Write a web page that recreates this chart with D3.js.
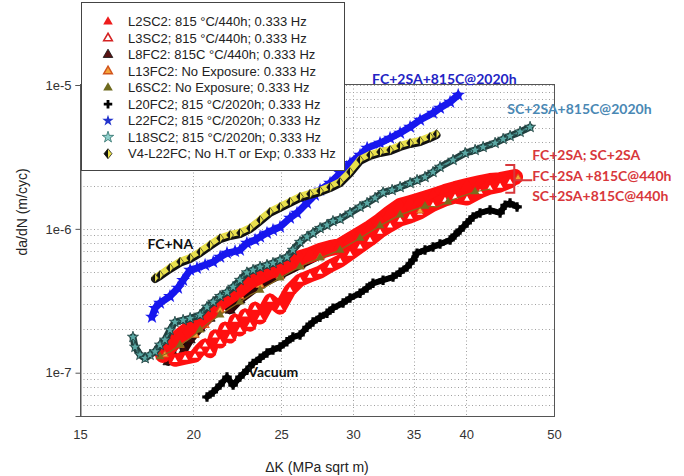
<!DOCTYPE html>
<html><head><meta charset="utf-8">
<script src="https://cdn.jsdelivr.net/npm/d3@7"></script>
<style>
html,body{margin:0;padding:0;background:#fff;}
svg{display:block;}
</style></head>
<body>
<svg id="c" width="684" height="476"></svg>
<script>
// ---------------- DATA (ΔK in MPa·sqrt(m), da/dN in m/cycle) ----------------
const xTickValues = [15, 20, 25, 30, 35, 40, 50];
const yTickValues = [1e-5, 1e-6, 1e-7];
const yTickLabels = ["1e-5", "1e-6", "1e-7"];

const seriesNames = [
  "L2SC2: 815 °C/440h; 0.333 Hz",
  "L3SC2; 815 °C/440h; 0.333 Hz",
  "L8FC2: 815C °C/440h; 0.333 Hz",
  "L13FC2: No Exposure: 0.333 Hz",
  "L6SC2: No Exposure; 0.333 Hz",
  "L20FC2; 815 °C/2020h; 0.333 Hz",
  "L22FC2; 815 °C/2020h; 0.333 Hz",
  "L18SC2; 815 °C/2020h; 0.333 Hz",
  "V4-L22FC; No H.T or Exp; 0.333 Hz"
];

const L2SC2_dK   = [18.52,18.85,19.34,19.84,20.35,20.87,21.41,21.96,22.52,23.10,23.70,24.30,24.93,25.57,26.23,26.90,27.60,28.31,29.04,29.78,30.55,31.33,32.14,32.97,33.82,34.69,35.58,36.77,37.91,38.89,40.09,41.44,42.50,43.60,44.72,45.29];
const L2SC2_dadN = [1.33e-7,1.53e-7,1.80e-7,2.04e-7,2.25e-7,2.64e-7,3.05e-7,3.41e-7,3.81e-7,4.34e-7,4.70e-7,5.09e-7,5.34e-7,5.78e-7,6.26e-7,6.57e-7,7.01e-7,7.35e-7,7.59e-7,8.36e-7,9.20e-7,1.013e-6,1.133e-6,1.288e-6,1.441e-6,1.511e-6,1.586e-6,1.691e-6,1.803e-6,1.891e-6,1.984e-6,2.083e-6,2.150e-6,2.18e-6,2.256e-6,2.29e-6];

const L3SC2_dK   = [19.09,19.59,20.09,20.35,20.61,20.87,21.14,21.41,21.68,21.96,22.24,22.52,22.81,23.10,23.40,23.70,24.30,24.93,25.57,26.23,26.90,27.60,28.31,29.04,29.78,30.55,31.33,32.14,32.97,33.82,34.69,35.58,36.77,37.91,38.89,40.09,41.44,42.50,43.60,44.72];
const L3SC2_dadN = [1.22e-7,1.264e-7,1.305e-7,1.44e-7,1.56e-7,1.40e-7,1.80e-7,1.632e-7,2.04e-7,1.77e-7,2.32e-7,1.98e-7,2.52e-7,2.14e-7,2.81e-7,2.40e-7,3.20e-7,2.81e-7,3.75e-7,4.40e-7,4.70e-7,5.0e-7,5.51e-7,5.97e-7,6.67e-7,7.48e-7,8.36e-7,9.5e-7,1.05e-6,1.15e-6,1.208e-6,1.288e-6,1.46e-6,1.586e-6,1.664e-6,1.611e-6,1.803e-6,1.922e-6,1.984e-6,2.116e-6];

const L8FC2_dK   = [18.76,18.95,19.14,19.34,19.54,19.84,20.35,20.87,21.30,21.68,21.96,22.52,23.70,24.93,26.23,27.60,29.04,30.55,32.14,33.82,35.58,37.43,39.39,41.44,43.60];
const L8FC2_dadN = [1.19e-7,1.40e-7,1.64e-7,1.73e-7,1.44e-7,1.69e-7,2.04e-7,2.39e-7,2.95e-7,3.10e-7,2.72e-7,3.20e-7,4.07e-7,4.77e-7,5.60e-7,6.57e-7,7.72e-7,9.06e-7,1.063e-6,1.25e-6,1.46e-6,1.67e-6,1.86e-6,2.05e-6,2.18e-6];

const L13FC2_dK   = [18.61,19.34,20.09,20.61,20.87,21.41,22.52,23.70,24.93,26.23,27.60,29.04,30.55,32.14,33.82,35.58,37.43,39.39,41.44,43.60,45.64];
const L13FC2_dadN = [1.33e-7,1.56e-7,1.83e-7,2.14e-7,2.52e-7,2.72e-7,3.40e-7,4.07e-7,4.70e-7,5.51e-7,6.37e-7,7.36e-7,8.36e-7,9.81e-7,1.13e-6,1.33e-6,1.54e-6,1.72e-6,1.92e-6,2.05e-6,2.26e-6];

const L6SC2_dK   = [18.38,18.85,19.34,19.84,20.35,20.87,21.41,21.96,22.52,23.10,23.70,24.30,24.93,25.57,26.23,26.90,27.60,28.31,29.04,29.78,30.55,31.33,32.14,32.97,33.82,34.95,36.03,37.15,38.20,39.39,40.92,42.50];
const L6SC2_dadN = [1.29e-7,1.40e-7,1.56e-7,1.73e-7,1.98e-7,2.25e-7,2.52e-7,2.81e-7,3.10e-7,3.46e-7,3.75e-7,4.12e-7,4.55e-7,5.0e-7,5.43e-7,5.88e-7,6.27e-7,6.67e-7,7.12e-7,7.84e-7,8.6e-7,9.5e-7,1.05e-6,1.15e-6,1.25e-6,1.35e-6,1.44e-6,1.42e-6,1.54e-6,1.67e-6,1.81e-6,1.89e-6];

const L20FC2_dK   = [20.71,21.04,21.41,21.79,22.13,22.52,22.92,23.28,23.70,24.12,24.49,24.93,25.37,25.76,26.23,26.70,27.11,27.60,28.09,28.52,29.26,29.78,30.55,31.10,31.57,32.39,33.22,33.82,34.43,34.95,35.31,36.03,36.77,37.43,38.40,38.89,39.39,40.10,40.71,41.44,42.50,43.60,44.16,44.72,45.52];
const L20FC2_dadN = [6.78e-8,7.34e-8,8.20e-8,9.32e-8,8.20e-8,9.32e-8,1.04e-7,1.16e-7,1.26e-7,1.37e-7,1.44e-7,1.51e-7,1.64e-7,1.77e-7,1.83e-7,2.07e-7,2.25e-7,2.43e-7,2.59e-7,2.81e-7,3.05e-7,3.30e-7,3.57e-7,3.88e-7,4.18e-7,4.40e-7,4.62e-7,5.0e-7,5.43e-7,6.07e-7,6.78e-7,7.12e-7,7.48e-7,7.84e-7,8.36e-7,9.06e-7,9.81e-7,1.10e-6,1.21e-6,1.29e-6,1.35e-6,1.29e-6,1.46e-6,1.51e-6,1.42e-6];

const L22FC2_dK   = [18.01,18.15,18.38,18.85,19.24,19.49,19.84,20.19,20.61,21.04,21.41,21.79,22.24,22.52,22.92,23.40,23.70,24.12,24.49,24.93,25.57,26.03,26.70,27.24,27.60,28.31,29.04,29.78,30.55,31.10,32.14,32.97,33.82,34.69,35.58,36.77,37.43,38.40,39.20];
const L22FC2_dadN = [2.44e-7,2.81e-7,3.05e-7,3.40e-7,3.88e-7,4.40e-7,5.17e-7,5.34e-7,5.60e-7,5.88e-7,6.37e-7,6.78e-7,6.98e-7,7.12e-7,7.96e-7,8.36e-7,8.8e-7,9.35e-7,9.81e-7,1.03e-6,1.19e-6,1.29e-6,1.51e-6,1.72e-6,1.86e-6,2.08e-6,2.44e-6,2.86e-6,3.26e-6,3.65e-6,3.95e-6,4.28e-6,4.64e-6,5.10e-6,5.71e-6,6.38e-6,6.91e-6,7.62e-6,8.52e-6];

const L18SC2_dK   = [17.16,17.25,17.47,17.70,17.92,18.15,18.38,18.61,18.85,19.09,19.49,19.84,20.35,20.71,21.04,21.41,21.79,22.13,22.52,22.92,23.28,23.70,24.12,24.49,24.93,25.37,25.76,26.23,26.70,27.11,27.60,28.09,28.52,29.04,29.78,30.55,31.10,31.74,32.39,33.14,33.82,34.69,35.31,36.03,36.77,37.43,38.69,39.90,40.92,41.76,43.05,43.94,44.72,45.87,47.05];
const L18SC2_dadN = [1.77e-7,1.51e-7,1.33e-7,1.26e-7,1.33e-7,1.40e-7,1.56e-7,1.69e-7,1.98e-7,2.25e-7,2.32e-7,2.39e-7,2.52e-7,2.86e-7,3.10e-7,3.40e-7,3.63e-7,3.94e-7,4.40e-7,4.96e-7,5.17e-7,5.43e-7,5.60e-7,5.78e-7,6.07e-7,6.37e-7,7.12e-7,8.08e-7,8.8e-7,9.35e-7,1.01e-6,1.063e-6,1.13e-6,1.17e-6,1.29e-6,1.42e-6,1.51e-6,1.64e-6,1.79e-6,1.86e-6,1.95e-6,2.08e-6,2.18e-6,2.29e-6,2.48e-6,2.69e-6,3.01e-6,3.36e-6,3.53e-6,3.70e-6,3.95e-6,4.21e-6,4.42e-6,4.72e-6,5.10e-6];

const V4_dK   = [18.15,18.38,18.85,19.34,19.84,20.35,20.87,21.41,21.96,22.52,23.10,23.70,24.30,24.93,25.57,26.23,26.90,27.60,28.31,29.04,29.78,30.55,31.33,32.14,32.97,33.82,34.69,35.58,36.49,37.10];
const V4_dadN = [4.55e-7,4.77e-7,5.34e-7,5.9e-7,6.27e-7,6.9e-7,7.72e-7,8.6e-7,9.06e-7,9.35e-7,1.01e-6,1.15e-6,1.31e-6,1.42e-6,1.54e-6,1.67e-6,1.75e-6,1.83e-6,1.95e-6,2.11e-6,2.48e-6,3.01e-6,3.26e-6,3.42e-6,3.53e-6,3.77e-6,3.95e-6,4.08e-6,4.35e-6,4.56e-6];

const annotations = [
  {text:"FC+2SA+815C@2020h", dK:31.5, v:1.02e-5, color:"#2323c4"},
  {text:"SC+2SA+815C@2020h", dK:44.4, v:6.25e-6, color:"#4a88b4"},
  {text:"FC+2SA; SC+2SA", dK:47.3, v:3.0e-6, color:"#d8373b"},
  {text:"FC+2SA +815C@440h", dK:47.3, v:2.15e-6, color:"#d8373b"},
  {text:"SC+2SA+815C@440h", dK:47.3, v:1.55e-6, color:"#d8373b"},
  {text:"FC+NA", dK:17.8, v:7.2e-7, color:"#111"},
  {text:"Vacuum", dK:23.0, v:9.3e-8, color:"#111"}
];

// ---------------- CHART ----------------
const svg = d3.select("#c");
const x = d3.scaleLog().domain([15, 50]).range([80, 554]);
const y = d3.scaleLog().domain([5e-8, 1e-5]).range([416, 85]);
const toPts = (a, b) => a.map((d, i) => [d, b[i]]);
const line = d3.line().x(d => x(d[0])).y(d => y(d[1]));

// gridlines
const gridG = svg.append("g");
const yGrid = [];
for (let e = -8; e <= -5; e++) for (let k = 1; k <= 9; k++) {
  const v = k * Math.pow(10, e);
  if (v >= 5e-8 * 0.999 && v <= 1e-5 * 1.001) yGrid.push(v);
}
gridG.selectAll(".hg").data(yGrid).join("line")
  .attr("x1", 80).attr("x2", 554)
  .attr("y1", d => Math.round(y(d)) + 0.5).attr("y2", d => Math.round(y(d)) + 0.5)
  .attr("stroke", "#a0a0a0").attr("stroke-width", 1).attr("stroke-dasharray", "1,2.5");
gridG.selectAll(".vg").data(xTickValues.filter(v => v > 15 && v < 50)).join("line")
  .attr("y1", 85).attr("y2", 416)
  .attr("x1", d => Math.round(x(d)) + 0.5).attr("x2", d => Math.round(x(d)) + 0.5)
  .attr("stroke", "#a0a0a0").attr("stroke-width", 1).attr("stroke-dasharray", "1,2.5");

// plot frame
svg.append("rect").attr("x", 80.5).attr("y", 84.5).attr("width", 474).attr("height", 332)
  .attr("fill", "none").attr("stroke", "#555").attr("stroke-width", 1);

// axes
const yAxis = d3.axisLeft(y).tickValues(yTickValues).tickFormat((d, i) => yTickLabels[i]).tickSize(5).tickPadding(4);
const yg = svg.append("g").attr("transform", "translate(80.5,0)").call(yAxis);
yg.select(".domain").attr("stroke", "#555");
yg.selectAll("line").attr("stroke", "#555");
yg.selectAll("text").attr("font-family", "Liberation Sans, Arial, sans-serif").attr("font-size", 13).attr("fill", "#333");

const xAxis = d3.axisBottom(x).tickValues(xTickValues).tickFormat(d3.format("d")).tickSize(0).tickPadding(13);
const xg = svg.append("g").attr("transform", "translate(0,416.5)").call(xAxis);
xg.select(".domain").remove();
xg.selectAll("text").attr("font-family", "Liberation Sans, Arial, sans-serif").attr("font-size", 13).attr("fill", "#333");

svg.append("text").attr("x", 317).attr("y", 472).attr("text-anchor", "middle")
  .attr("font-family", "Liberation Sans, Arial, sans-serif").attr("font-size", 14).attr("fill", "#222")
  .text("ΔK (MPa sqrt m)");
svg.append("text").attr("transform", "translate(27,212) rotate(-90)").attr("text-anchor", "middle")
  .attr("font-family", "Liberation Sans, Arial, sans-serif").attr("font-size", 14).attr("fill", "#222")
  .text("da/dN (m/cyc)");

// series drawing helpers
const plot = svg.append("g");
const sym = (type, size) => d3.symbol().type(type).size(size)();
function band(pts, color, w, dy) {
  plot.append("path").attr("d", line(pts)).attr("fill", "none").attr("stroke", color)
    .attr("stroke-width", w).attr("stroke-linejoin", "round").attr("stroke-linecap", "round")
    .attr("transform", dy ? `translate(0,${dy})` : null);
}
function marks(pts, type, size, fill, stroke, sw) {
  plot.append("g").selectAll("path").data(pts).join("path")
    .attr("transform", d => `translate(${x(d[0])},${y(d[1])})`)
    .attr("d", sym(type, size)).attr("fill", fill).attr("stroke", stroke || "none").attr("stroke-width", sw || 1);
}
function diamonds(pts, r) {
  const g = plot.append("g").selectAll("g").data(pts).join("g")
    .attr("transform", d => `translate(${x(d[0])},${y(d[1])})`);
  g.append("path").attr("d", `M0,${-r}L${r*0.75},0L0,${r}L${-r*0.75},0Z`).attr("fill", "#ede34a").attr("stroke", "#222").attr("stroke-width", 0.7);
  g.append("path").attr("d", `M0,${-r}L${-r*0.75},0L0,${r}Z`).attr("fill", "#111");
}

const sL2 = toPts(L2SC2_dK, L2SC2_dadN), sL3 = toPts(L3SC2_dK, L3SC2_dadN),
      sL8 = toPts(L8FC2_dK, L8FC2_dadN), sL13 = toPts(L13FC2_dK, L13FC2_dadN),
      sL6 = toPts(L6SC2_dK, L6SC2_dadN), sL20 = toPts(L20FC2_dK, L20FC2_dadN),
      sL22 = toPts(L22FC2_dK, L22FC2_dadN), sL18 = toPts(L18SC2_dK, L18SC2_dadN),
      sV4 = toPts(V4_dK, V4_dadN);

// dark maroon and orange (mostly underneath the red)
band(sL8, "#2a0606", 8);
marks(sL8, d3.symbolTriangle, 45, "#3a0a0a", "#111", 0.8);
marks(sL13, d3.symbolTriangle, 30, "#f3a43a", "#d2541c", 1);
// red filled
band(sL2, "#ff1010", 16);
marks(sL2, d3.symbolTriangle, 90, "#ff1010");
// red open
band(sL3, "#ff1010", 13);
marks(sL3, d3.symbolTriangle, 36, "#fff", "#ff1010", 2);
// a few orange tips visible
marks(sL13.filter((d, i) => i % 5 === 0 || i === sL13.length - 1), d3.symbolTriangle, 22, "#f3a43a", "#d2541c", 1);
// olive
band(sL6, "#8a6a1c", 1.2);
marks(sL6.filter((d, i) => i % 2 === 0), d3.symbolTriangle, 34, "#7a6c1e");
// black plus
band(sL20, "#000", 6);
marks(sL20, d3.symbolCross, 50, "#000");
// blue stars
band(sL22, "#1717ee", 7);
marks(sL22, d3.symbolStar, 60, "#1717ee");
// teal stars
band(sL18, "#22403f", 7);
band(sL18, "#4e9794", 2);
marks(sL18, d3.symbolStar, 38, "#5aa8a4", "#1c3b3a", 0.8);
// yellow/black diamonds
band(sV4, "#111", 8, 1);
band(sV4, "#e9e04c", 6, -1);
diamonds(sV4, 4.5);

// annotations
const ann = svg.append("g");
ann.selectAll("text").data(annotations).join("text")
  .attr("x", d => x(d.dK)).attr("y", d => y(d.v))
  .attr("font-family", "Lato, 'Open Sans', sans-serif").attr("font-weight", "bold").attr("font-size", 14)
  .attr("fill", d => d.color).text(d => d.text);

// bracket
const bx = x(45.2), byTop = y(2.78e-6), byBot = y(1.78e-6), byMid = y(2.18e-6);
ann.append("path")
  .attr("d", `M${bx-9},${byTop}H${bx}V${byBot}H${bx-9}M${bx},${byMid}H${bx+18}`)
  .attr("fill", "none").attr("stroke", "#d8373b").attr("stroke-width", 2);

// legend
const lg = svg.append("g");
lg.append("rect").attr("x", 81.5).attr("y", 2.5).attr("width", 263).attr("height", 168)
  .attr("fill", "#fff").attr("stroke", "#444").attr("stroke-width", 1);
const legendMarkers = [
  g => g.append("path").attr("d", sym(d3.symbolTriangle, 40)).attr("fill", "#ee1c1c"),
  g => g.append("path").attr("d", sym(d3.symbolTriangle, 32)).attr("fill", "#fff").attr("stroke", "#d42222").attr("stroke-width", 1.6),
  g => g.append("path").attr("d", sym(d3.symbolTriangle, 40)).attr("fill", "#5a1414").attr("stroke", "#111").attr("stroke-width", 0.8),
  g => g.append("path").attr("d", sym(d3.symbolTriangle, 32)).attr("fill", "#f3a43a").attr("stroke", "#d2541c").attr("stroke-width", 1.5),
  g => g.append("path").attr("d", sym(d3.symbolTriangle, 40)).attr("fill", "#6e6a1e"),
  g => g.append("path").attr("d", sym(d3.symbolCross, 40)).attr("fill", "#000"),
  g => g.append("path").attr("d", sym(d3.symbolStar, 40)).attr("fill", "#2233cc"),
  g => g.append("path").attr("d", sym(d3.symbolStar, 40)).attr("fill", "#8fd0cc").attr("stroke", "#2d6e6a").attr("stroke-width", 0.8),
  g => { g.append("path").attr("d", "M0,-5L4,0L0,5L-4,0Z").attr("fill", "#ede34a").attr("stroke", "#222").attr("stroke-width", 0.8);
         g.append("path").attr("d", "M0,-5L-4,0L0,5Z").attr("fill", "#111"); }
];
seriesNames.forEach((name, i) => {
  const cy = 21.7 + i * 16.5;
  const g = lg.append("g").attr("transform", `translate(108,${cy})`);
  legendMarkers[i](g);
  lg.append("text").attr("x", 128).attr("y", cy + 4.5)
    .attr("font-family", "Liberation Sans, Arial, sans-serif").attr("font-size", 13).attr("fill", "#222")
    .text(name);
});
</script>
</body></html>
